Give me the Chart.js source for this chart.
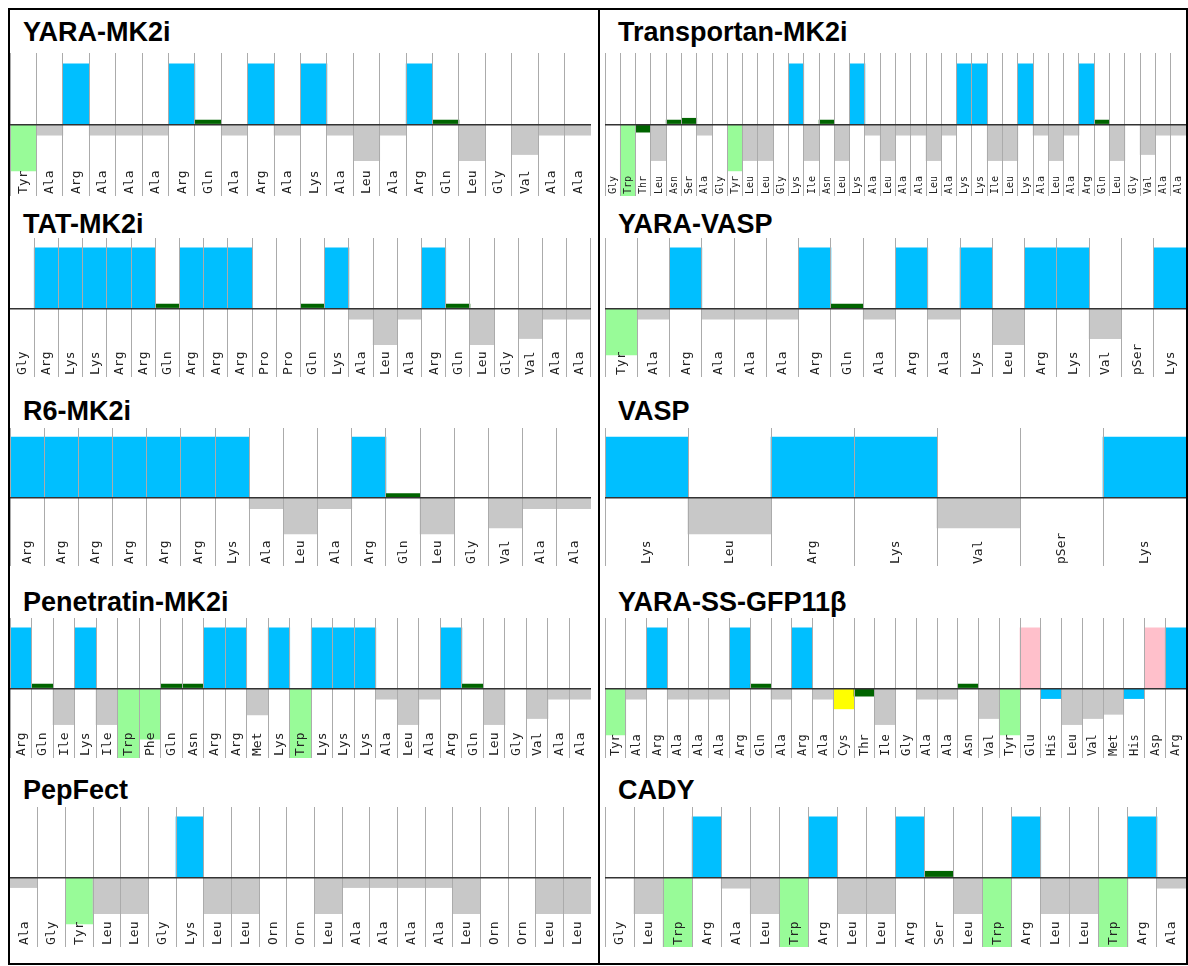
<!DOCTYPE html>
<html><head><meta charset="utf-8">
<script src="https://cdn.jsdelivr.net/npm/chart.js@4.4.1/dist/chart.umd.min.js"></script>
<style>
html,body{margin:0;padding:0;background:#fff;}
#page{position:relative;width:1188px;height:966px;overflow:hidden;}
#frame{position:absolute;left:8px;top:8px;width:1180px;height:957px;border:2px solid #000;box-sizing:border-box;}
#divider{position:absolute;left:598px;top:8px;width:2px;height:957px;background:#000;}
.title{position:absolute;font:bold 27px "Liberation Sans",Arial,sans-serif;line-height:27px;color:#000;white-space:nowrap;}
canvas{position:absolute;display:block;}
</style>
</head><body>
<div id="page"><div id="frame"></div><div id="divider"></div></div>
<script>
// ---------- data (hydropathy-style value per residue, charged residue = 1) ----------
const yaraMk2iResidues = ["Tyr","Ala","Arg","Ala","Ala","Ala","Arg","Gln","Ala","Arg","Ala","Lys","Ala","Leu","Ala","Arg","Gln","Leu","Gly","Val","Ala","Ala"];
const yaraMk2iValues   = [-0.77,-0.18,1,-0.18,-0.18,-0.18,1,0.07,-0.18,1,-0.18,1,-0.18,-0.6,-0.18,1,0.07,-0.6,0,-0.5,-0.18,-0.18];

const transportanResidues = ["Gly","Trp","Thr","Leu","Asn","Ser","Ala","Gly","Tyr","Leu","Leu","Gly","Lys","Ile","Asn","Leu","Lys","Ala","Leu","Ala","Ala","Leu","Ala","Lys","Lys","Ile","Leu","Lys","Ala","Leu","Ala","Arg","Gln","Leu","Gly","Val","Ala","Ala"];
const transportanValues   = [0,-1.3,-0.13,-0.6,0.07,0.1,-0.18,0,-0.77,-0.6,-0.6,0,1,-0.6,0.07,-0.6,1,-0.18,-0.6,-0.18,-0.18,-0.6,-0.18,1,1,-0.6,-0.6,1,-0.18,-0.6,-0.18,1,0.07,-0.6,0,-0.5,-0.18,-0.18];

const tatMk2iResidues = ["Gly","Arg","Lys","Lys","Arg","Arg","Gln","Arg","Arg","Arg","Pro","Pro","Gln","Lys","Ala","Leu","Ala","Arg","Gln","Leu","Gly","Val","Ala","Ala"];
const tatMk2iValues   = [0,1,1,1,1,1,0.07,1,1,1,0,0,0.07,1,-0.18,-0.6,-0.18,1,0.07,-0.6,0,-0.5,-0.18,-0.18];

const yaraVaspResidues = ["Tyr","Ala","Arg","Ala","Ala","Ala","Arg","Gln","Ala","Arg","Ala","Lys","Leu","Arg","Lys","Val","pSer","Lys"];
const yaraVaspValues   = [-0.77,-0.18,1,-0.18,-0.18,-0.18,1,0.07,-0.18,1,-0.18,1,-0.6,1,1,-0.5,0,1];

const r6Mk2iResidues = ["Arg","Arg","Arg","Arg","Arg","Arg","Lys","Ala","Leu","Ala","Arg","Gln","Leu","Gly","Val","Ala","Ala"];
const r6Mk2iValues   = [1,1,1,1,1,1,1,-0.18,-0.6,-0.18,1,0.07,-0.6,0,-0.5,-0.18,-0.18];

const vaspResidues = ["Lys","Leu","Arg","Lys","Val","pSer","Lys"];
const vaspValues   = [1,-0.6,1,1,-0.5,0,1];

const penetratinResidues = ["Arg","Gln","Ile","Lys","Ile","Trp","Phe","Gln","Asn","Arg","Arg","Met","Lys","Trp","Lys","Lys","Lys","Ala","Leu","Ala","Arg","Gln","Leu","Gly","Val","Ala","Ala"];
const penetratinValues   = [1,0.07,-0.6,1,-0.6,-1.3,-0.84,0.07,0.07,1,1,-0.44,1,-1.3,1,1,1,-0.18,-0.6,-0.18,1,0.07,-0.6,0,-0.5,-0.18,-0.18];

const gfpResidues = ["Tyr","Ala","Arg","Ala","Ala","Ala","Arg","Gln","Ala","Arg","Ala","Cys","Thr","Ile","Gly","Ala","Ala","Asn","Val","Tyr","Glu","His","Leu","Val","Met","His","Asp","Arg"];
const gfpValues   = [-0.77,-0.18,1,-0.18,-0.18,-0.18,1,0.07,-0.18,1,-0.18,-0.34,-0.13,-0.6,0,-0.18,-0.18,0.07,-0.5,-0.77,1,-0.17,-0.6,-0.5,-0.43,-0.17,1,1];

const pepFectResidues = ["Ala","Gly","Tyr","Leu","Leu","Gly","Lys","Leu","Leu","Orn","Orn","Leu","Ala","Ala","Ala","Ala","Leu","Orn","Orn","Leu","Leu"];
const pepFectValues   = [-0.17,0,-0.77,-0.6,-0.6,0,1,-0.6,-0.6,0,0,-0.6,-0.17,-0.17,-0.17,-0.17,-0.6,0,0,-0.6,-0.6];

const cadyResidues = ["Gly","Leu","Trp","Arg","Ala","Leu","Trp","Arg","Leu","Leu","Arg","Ser","Leu","Trp","Arg","Leu","Leu","Trp","Arg","Ala"];
const cadyValues   = [0,-0.6,-1.3,1,-0.18,-0.6,-1.3,1,-0.6,-0.6,1,0.1,-0.6,-1.3,1,-0.6,-0.6,-1.3,1,-0.18];

const panelTitles = ["YARA-MK2i","Transportan-MK2i","TAT-MK2i","YARA-VASP","R6-MK2i","VASP","Penetratin-MK2i","YARA-SS-GFP11β","PepFect","CADY"];

// ---------- styles ----------
const residueColor = {
  Arg:"#00BFFF", Lys:"#00BFFF", His:"#00BFFF",
  Glu:"#FFC0CB", Asp:"#FFC0CB",
  Tyr:"#98FB98", Trp:"#98FB98", Phe:"#98FB98",
  Gln:"#006400", Asn:"#006400", Ser:"#006400", Thr:"#006400",
  Cys:"#FFFF00",
  Ala:"#C8C8C8", Leu:"#C8C8C8", Ile:"#C8C8C8", Val:"#C8C8C8", Met:"#C8C8C8"
};
const UNIT = 60.5; // px per value unit
const rows = [
  {top:53, bottom:196, zero:124.3, base:42},
  {top:238, bottom:377, zero:308.3, base:233.5},
  {top:428, bottom:566, zero:497.7, base:421},
  {top:618, bottom:758, zero:688.3, base:611.5},
  {top:807, bottom:947, zero:877.3, base:799.5}
];
const cols = [{left:10, right:591, titleX:23},{left:605, right:1186, titleX:618}];

const panels = [
  {res:yaraMk2iResidues, val:yaraMk2iValues, r:0, c:0, fs:13},
  {res:transportanResidues, val:transportanValues, r:0, c:1, fs:10},
  {res:tatMk2iResidues, val:tatMk2iValues, r:1, c:0, fs:13},
  {res:yaraVaspResidues, val:yaraVaspValues, r:1, c:1, fs:13},
  {res:r6Mk2iResidues, val:r6Mk2iValues, r:2, c:0, fs:13},
  {res:vaspResidues, val:vaspValues, r:2, c:1, fs:13},
  {res:penetratinResidues, val:penetratinValues, r:3, c:0, fs:13},
  {res:gfpResidues, val:gfpValues, r:3, c:1, fs:12},
  {res:pepFectResidues, val:pepFectValues, r:4, c:0, fs:13},
  {res:cadyResidues, val:cadyValues, r:4, c:1, fs:13}
];

const labelPlugin = {
  id:'resLabels',
  afterDraw(chart, args, opts){
    const {ctx, chartArea, scales:{x}} = chart;
    ctx.save();
    ctx.font = opts.size + 'px "DejaVu Sans Mono", monospace';
    ctx.fillStyle = '#222';
    ctx.textAlign = 'left';
    ctx.textBaseline = 'middle';
    chart.data.labels.forEach((lab, i) => {
      const px = x.getPixelForValue(i);
      ctx.save();
      ctx.translate(px + 0.5, chartArea.bottom - 2);
      ctx.rotate(-Math.PI/2);
      ctx.fillText(lab, 0, 0);
      ctx.restore();
    });
    ctx.restore();
  }
};

const page = document.getElementById('page');
panels.forEach((p, idx) => {
  const row = rows[p.r], col = cols[p.c];
  const t = document.createElement('div');
  t.className = 'title';
  t.textContent = panelTitles[idx];
  t.style.left = col.titleX + 'px';
  t.style.top = (row.base - 23) + 'px';
  page.appendChild(t);

  const w = col.right - col.left, h = row.bottom - row.top;
  const cv = document.createElement('canvas');
  cv.width = w; cv.height = h;
  cv.style.left = col.left + 'px'; cv.style.top = row.top + 'px';
  cv.style.width = w + 'px'; cv.style.height = h + 'px';
  page.appendChild(cv);

  new Chart(cv.getContext('2d'), {
    type:'bar',
    data:{
      labels:p.res,
      datasets:[{
        data:p.val,
        backgroundColor:p.res.map(r => residueColor[r] || 'rgba(0,0,0,0)'),
        borderWidth:0,
        barPercentage:1,
        categoryPercentage:1
      }]
    },
    options:{
      responsive:false, animation:false, events:[],
      layout:{padding:0},
      plugins:{legend:{display:false}, tooltip:{enabled:false}, title:{display:false}, resLabels:{size:p.fs}},
      scales:{
        x:{
          offset:true,
          grid:{display:true, z:1, offset:true, drawTicks:false, color:'#ababab', lineWidth:1},
          border:{display:false},
          ticks:{display:false}
        },
        y:{
          min:-(row.bottom - row.zero)/UNIT,
          max:(row.zero - row.top)/UNIT,
          afterBuildTicks:s => { s.ticks = [{value:0}]; },
          grid:{z:2, drawTicks:false, color:'#333', lineWidth:1.5},
          border:{display:false},
          ticks:{display:false}
        }
      }
    },
    plugins:[labelPlugin]
  });
});
</script>
</body></html>
